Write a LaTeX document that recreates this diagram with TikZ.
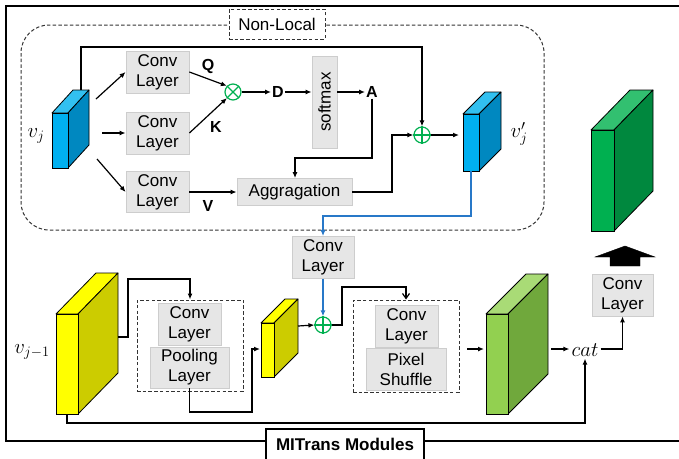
\documentclass[tikz,border=0pt]{standalone}
\usepackage{fontspec}
\setmainfont{Liberation Sans}
\usetikzlibrary{arrows.meta,calc}
\definecolor{boxgray}{RGB}{230,230,230}
\definecolor{boxedge}{RGB}{205,205,205}
\definecolor{opgreen}{RGB}{0,176,80}
\definecolor{linkblue}{RGB}{40,120,200}
\definecolor{bfront}{RGB}{0,176,240}
\definecolor{bside}{RGB}{0,136,192}
\definecolor{btop}{RGB}{50,192,240}
\definecolor{gfront}{RGB}{0,176,80}
\definecolor{gside}{RGB}{0,136,62}
\definecolor{gtop}{RGB}{50,192,112}
\definecolor{yfront}{RGB}{255,255,0}
\definecolor{yside}{RGB}{204,204,0}
\definecolor{lgfront}{RGB}{146,208,80}
\definecolor{lgside}{RGB}{112,168,60}
\definecolor{lgtop}{RGB}{169,219,118}
% #1 x, #2 y (front top-left), #3 w, #4 h, #5 dx, #6 dy(up), #7 front, #8 side, #9 top
\newcommand\mycuboid[9]{%
  \filldraw[fill=#9,draw=black,line width=0.8pt,line join=round]
    (#1,#2) -- ++(#5,-#6) -- ++(#3,0) -- ++(-#5,#6) -- cycle;
  \filldraw[fill=#8,draw=black,line width=0.8pt,line join=round]
    (#1+#3,#2) -- ++(#5,-#6) -- ++(0,#4) -- ++(-#5,#6) -- cycle;
  \filldraw[fill=#7,draw=black,line width=0.8pt] (#1,#2) rectangle ++(#3,#4);
}
\begin{document}
\begin{tikzpicture}[x=1pt,y=-1pt,
  lbl/.style={font=\fontsize{17}{20}\selectfont,align=center},
  graybox/.style={lbl,fill=boxgray,draw=boxedge,line width=0.8pt,inner sep=0pt},
  bl/.style={font=\fontsize{16}{18}\selectfont\bfseries,inner sep=1pt},
  mth/.style={font=\fontsize{22}{24}\selectfont,inner sep=1pt},
  ln/.style={line width=1.2pt,black},
  arr/.style={ln,-{Latex[length=6pt,width=5pt]}},
  oarr/.style={ln,-{Straight Barb[length=5pt,width=7pt]}},
  barr/.style={line width=1.2pt,linkblue,-{Latex[length=6pt,width=5pt]}},
  dbox/.style={draw=black!80,dash pattern=on 3.5pt off 2.2pt,line width=1pt,inner sep=0pt},
  op/.style={circle,draw=opgreen,line width=1.2pt,minimum size=16pt,inner sep=0pt}
]
\useasboundingbox (0,0) rectangle (679,458);

% outer frame
\draw[line width=1.3pt] (6,6) rectangle (682,441);

% non-local region
\draw[dbox,rounded corners=28pt] (21,25) rectangle (544,230);
\node[dbox,fill=white,lbl,minimum width=96pt,minimum height=30pt] (nl) at (277,24) {Non-Local};

% cuboids
\mycuboid{52}{113}{16}{55}{21}{23}{bfront}{bside}{btop}
\mycuboid{463}{114}{16}{57}{22}{22}{bfront}{bside}{btop}
\mycuboid{591}{130}{23}{101}{39}{40}{gfront}{gside}{gtop}
\mycuboid{56}{314}{22}{100}{40}{41}{yfront}{yside}{yfront}
\mycuboid{261}{323}{13}{54}{24}{24}{yfront}{yside}{yfront}
\mycuboid{486}{314}{22}{100}{40}{40}{lgfront}{lgside}{lgtop}

% named connection points on cuboids
\coordinate (vjtop) at (81,90);
\coordinate (vjo1) at (96,99);
\coordinate (vjo2) at (102,133);
\coordinate (vjo3) at (97,159);
\coordinate (vjpin) at (459,135);
\coordinate (vjpbot) at (471,171);
\coordinate (ysd) at (118,337);
\coordinate (ybot) at (67,414);
\coordinate (syin) at (260,349);
\coordinate (syout) at (298,326);
\coordinate (lgin) at (484,349);
\coordinate (lgout) at (551,349);

% labels of cuboids
\node[mth] (vj) at (36,136) {$v_j$};
\node[mth] (vjp) at (519,134) {$v^{\prime}_j$};
\node[mth] (vjm) at (32,352) {$v_{j-1}$};

% top row boxes
\node[graybox,minimum width=63pt,minimum height=42pt] (conv1) at (157.5,72) {Conv\\Layer};
\node[graybox,minimum width=63pt,minimum height=42pt] (conv2) at (157.5,133) {Conv\\Layer};
\node[graybox,minimum width=63pt,minimum height=41pt] (conv3) at (157.5,192) {Conv\\Layer};
\node[op] (otimes) at (233,92) {};
\draw[opgreen,line width=1.2pt] (otimes.45) -- (otimes.225) (otimes.135) -- (otimes.315);
\node[bl] (Q) at (208,66) {Q};
\node[bl] (K) at (216,127) {K};
\node[bl] (V) at (208,206) {V};
\node[bl] (D) at (278,92) {D};
\node[graybox,minimum width=25pt,minimum height=92pt] (soft) at (324.5,102) {};
\node[lbl,rotate=90] at (soft.center) {softmax};
\node[bl] (A) at (372,92) {A};
\node[graybox,minimum width=115pt,minimum height=27pt] (agg) at (294.5,192) {Aggragation};
\node[op] (oplus1) at (422,135) {};
\draw[opgreen,line width=1.2pt] (oplus1.north) -- (oplus1.south) (oplus1.west) -- (oplus1.east);

% top row connectors
\coordinate (toprail) at (422,47);
\draw[arr] (vjtop) |- (toprail) -- (oplus1.north);
\draw[arr] (vjo1) -- (conv1.west);
\draw[arr] (vjo2) -- (conv2.west);
\draw[arr] (vjo3) -- (conv3.west);
\draw[arr] (conv1.east) -- (otimes.135);
\draw[arr] (conv2.east) -- (otimes.225);
\draw[arr] (otimes.east) -- (D.west);
\draw[arr] (D.east) -- (D.east -| soft.west);
\draw[arr] (soft.east |- A.west) -- (A.west);
\coordinate (aturn) at (295,158);
\draw[arr] (A.south) |- (aturn) -- (aturn |- agg.north);
\draw[arr] (conv3.east) -- (agg.west);
\coordinate (aggturn) at (392,135);
\draw[arr] (agg.east) -| (aggturn) -- (oplus1.west);
\draw[arr] (oplus1.east) -- (vjpin);

% lower part
\node[graybox,minimum width=62pt,minimum height=42pt] (conv4) at (323,257.5) {Conv\\Layer};
\node[op] (oplus2) at (323,325) {};
\draw[opgreen,line width=1.2pt] (oplus2.north) -- (oplus2.south) (oplus2.west) -- (oplus2.east);
\coordinate (bturn) at (323,216);
\draw[barr] (vjpbot) |- (bturn) -- (conv4.north);
\draw[barr] (conv4.south) -- (oplus2.north);

\node[dbox,minimum width=106pt,minimum height=91pt] (dbox1) at (190,345.5) {};
\node[graybox,minimum width=63pt,minimum height=42pt] (convA) at (189.5,324) {Conv\\Layer};
\node[graybox,minimum width=79pt,minimum height=41pt] (pool) at (189.5,367.5) {Pooling\\Layer};
\node[dbox,minimum width=106pt,minimum height=92pt] (dbox2) at (406,346) {};
\node[graybox,minimum width=63pt,minimum height=42pt] (convB) at (406.5,326) {Conv\\Layer};
\node[graybox,minimum width=80pt,minimum height=42pt] (pix) at (406,369) {Pixel\\Shuffle};

\node[mth,inner sep=2pt] (cat) at (585,350) {$cat$};
\node[graybox,minimum width=61pt,minimum height=42pt] (conv5) at (622.5,295) {Conv\\Layer};
\filldraw[black] (595,257) -- (625,246) -- (655,257) -- (640,257) -- (640,266) -- (610,266) -- (610,257) -- cycle;

\coordinate (yturn) at (128,279);
\draw[arr] (ysd) -| (yturn) -| (dbox1.north);
\coordinate (pturn) at (252,412);
\draw[arr] (pool.south) |- (pturn) |- (syin);
\draw[arr] (syout) -- (oplus2.west);
\coordinate (oturn) at (342,287);
\draw[oarr] (oplus2.east) -| (oturn) -| (dbox2.north);
\coordinate (d2out) at (467,349);
\draw[arr] (d2out) -- (lgin);
\draw[arr] (lgout) -- (lgout -| cat.west);
\draw[arr] (cat.east |- lgout) -| (conv5.south);
\coordinate (botrail) at (67,423);
\draw[arr] (ybot) -- (botrail) -| (cat.south);

% module label
\node[draw=black,line width=1.3pt,fill=white,font=\fontsize{17}{20}\selectfont\bfseries,minimum width=158pt,minimum height=31pt,inner sep=0pt] (mod) at (345,444.5) {MITrans Modules};
\end{tikzpicture}
\end{document}
